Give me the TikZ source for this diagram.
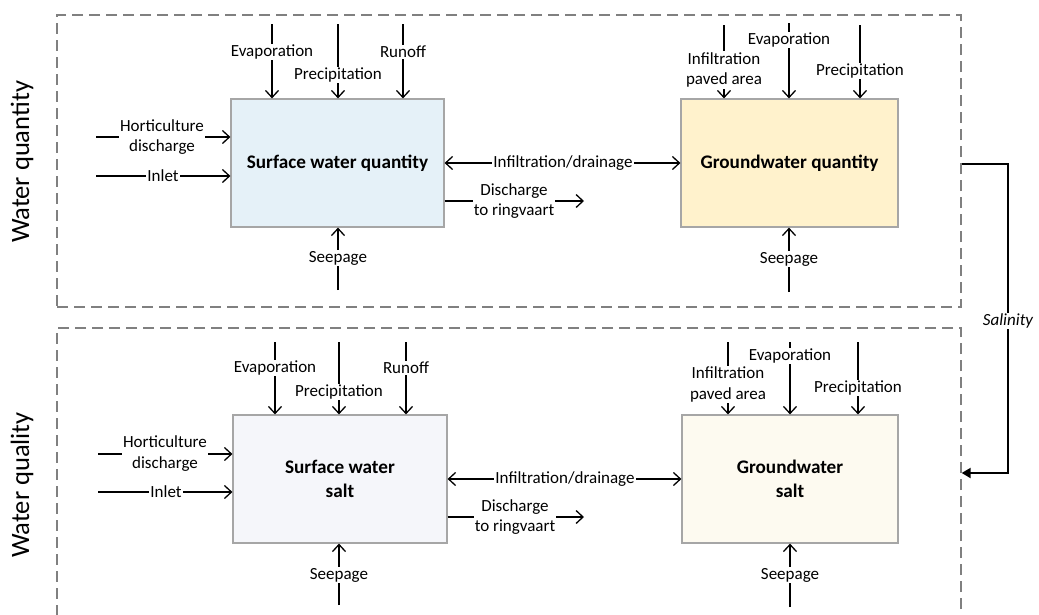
\documentclass[tikz,border=0pt]{standalone}
\usepackage{fontspec}
\setmainfont{Carlito}
\usetikzlibrary{arrows.meta}
\definecolor{framegray}{RGB}{128,128,128}
\definecolor{boxedge}{RGB}{166,166,166}
\definecolor{sqfill}{RGB}{229,241,248}
\definecolor{gqfill}{RGB}{255,242,204}
\definecolor{ssfill}{RGB}{245,246,250}
\definecolor{gsfill}{RGB}{253,250,240}
\tikzset{
  frame/.style={draw=framegray, line width=1.3pt, dash pattern=on 11pt off 6pt, inner sep=0pt},
  store/.style={draw=boxedge, line width=1.2pt, inner sep=0pt, align=center,
    font=\fontsize{19.2}{24}\selectfont\bfseries},
  flow/.style={line width=1.3pt, -{Straight Barb[length=7pt,width=13pt,line width=1.3pt]}},
  twoway/.style={line width=1.3pt, {Straight Barb[length=7pt,width=13pt,line width=1.3pt]}-{Straight Barb[length=7pt,width=13pt,line width=1.3pt]}},
  lbl/.style={fill=white, inner xsep=1pt, inner ysep=1pt, align=center,
    font=\fontsize{17}{20.5}\selectfont},
  side/.style={rotate=90, font=\fontsize{26.5}{30}\selectfont},
  salt/.style={line width=2pt, -{Triangle[length=9pt,width=10pt]}}
}
\begin{document}
\begin{tikzpicture}[x=1pt, y=-1pt]
\useasboundingbox (0,0) rectangle (1039,614);
\clip (0,0) rectangle (1039,614);

% group frames and their titles
\node[frame, minimum width=904pt, minimum height=292pt] (fq) at (509,161) {};
\node[frame, minimum width=904pt, minimum height=312pt] (fs) at (509,484) {};
\node[side] (tq) at (22,162) {Water quantity};
\node[side] (ts) at (22,485) {Water quality};

% stores
\node[store, fill=sqfill, minimum width=213pt, minimum height=128pt] (sq) at (337.5,163) {Surface water quantity};
\node[store, fill=gqfill, minimum width=217pt, minimum height=128pt] (gq) at (789.5,163) {Groundwater quantity};
\node[store, fill=ssfill, minimum width=214pt, minimum height=128pt] (ss) at (340,479) {Surface water\\salt};
\node[store, fill=gsfill, minimum width=216pt, minimum height=128pt] (gs) at (790,479) {Groundwater\\salt};

% ---------- surface water quantity ----------
\coordinate (sqEv) at (272,24);
\coordinate (sqPr) at (338,24);
\coordinate (sqRo) at (403,24);
\coordinate (sqHo) at (96,137);
\coordinate (sqIn) at (96,176);
\coordinate (sqDi) at (584,201);
\coordinate (sqSe) at (338,290);
\draw[flow] (sqEv) -- (sqEv |- sq.north);
\draw[flow] (sqPr) -- (sqPr |- sq.north);
\draw[flow] (sqRo) -- (sqRo |- sq.north);
\draw[flow] (sqHo) -- (sq.west |- sqHo);
\draw[flow] (sqIn) -- (sq.west |- sqIn);
\draw[twoway] (sq.east) -- (gq.west);
\draw[flow] (sq.east |- sqDi) -- (sqDi);
\draw[flow] (sqSe) -- (sqSe |- sq.south);
\node[lbl] (lsqEv) at (272,52) {Evaporation};
\node[lbl] (lsqPr) at (338,75) {Precipitation};
\node[lbl] (lsqRo) at (403,52) {Runoff};
\node[lbl] (lsqHo) at (162,137) {Horticulture\\discharge};
\node[lbl] (lsqIn) at (163,176) {Inlet};
\node[lbl] (lsqId) at (563,163) {Infiltration/drainage};
\node[lbl] (lsqDi) at (514,201) {Discharge\\to ringvaart};
\node[lbl] (lsqSe) at (338,258) {Seepage};

% ---------- groundwater quantity ----------
\coordinate (gqIp) at (724,25);
\coordinate (gqEv) at (789,23);
\coordinate (gqPr) at (860,25);
\coordinate (gqSe) at (789,292);
\draw[flow] (gqIp) -- (gqIp |- gq.north);
\draw[flow] (gqEv) -- (gqEv |- gq.north);
\draw[flow] (gqPr) -- (gqPr |- gq.north);
\draw[flow] (gqSe) -- (gqSe |- gq.south);
\node[lbl] (lgqIp) at (724,70) {Infiltration\\paved area};
\node[lbl] (lgqEv) at (789,40) {Evaporation};
\node[lbl] (lgqPr) at (860,71) {Precipitation};
\node[lbl] (lgqSe) at (789,259) {Seepage};

% ---------- surface water salt ----------
\coordinate (ssEv) at (275,342);
\coordinate (ssPr) at (339,342);
\coordinate (ssRo) at (406,342);
\coordinate (ssHo) at (98,454);
\coordinate (ssIn) at (98,492);
\coordinate (ssDi) at (584,517);
\coordinate (ssSe) at (339,605);
\draw[flow] (ssEv) -- (ssEv |- ss.north);
\draw[flow] (ssPr) -- (ssPr |- ss.north);
\draw[flow] (ssRo) -- (ssRo |- ss.north);
\draw[flow] (ssHo) -- (ss.west |- ssHo);
\draw[flow] (ssIn) -- (ss.west |- ssIn);
\draw[twoway] (ss.east) -- (gs.west);
\draw[flow] (ss.east |- ssDi) -- (ssDi);
\draw[flow] (ssSe) -- (ssSe |- ss.south);
\node[lbl] (lssEv) at (275,368) {Evaporation};
\node[lbl] (lssPr) at (339,392) {Precipitation};
\node[lbl] (lssRo) at (406,368) {Runoff};
\node[lbl] (lssHo) at (165,453.5) {Horticulture\\discharge};
\node[lbl] (lssIn) at (166,492) {Inlet};
\node[lbl] (lssId) at (565,479) {Infiltration/drainage};
\node[lbl] (lssDi) at (515,517) {Discharge\\to ringvaart};
\node[lbl] (lssSe) at (339,575) {Seepage};

% ---------- groundwater salt ----------
\coordinate (gsIp) at (728,342);
\coordinate (gsEv) at (790,342);
\coordinate (gsPr) at (858,342);
\coordinate (gsSe) at (790,607);
\draw[flow] (gsIp) -- (gsIp |- gs.north);
\draw[flow] (gsEv) -- (gsEv |- gs.north);
\draw[flow] (gsPr) -- (gsPr |- gs.north);
\draw[flow] (gsSe) -- (gsSe |- gs.south);
\node[lbl] (lgsIp) at (728,384.5) {Infiltration\\paved area};
\node[lbl] (lgsEv) at (790,356) {Evaporation};
\node[lbl] (lgsPr) at (858,388) {Precipitation};
\node[lbl] (lgsSe) at (790,575) {Seepage};

% ---------- salinity link between the groups ----------
\coordinate (salTop) at (1008,164);
\coordinate (salBot) at (1008,473);
\draw[salt] (fq.east |- salTop) -- (salTop) -- (salBot) -- (fs.east |- salBot);
\node[lbl, font=\fontsize{17}{20}\selectfont\itshape] (lsal) at (1008,321) {Salinity};
\end{tikzpicture}
\end{document}
